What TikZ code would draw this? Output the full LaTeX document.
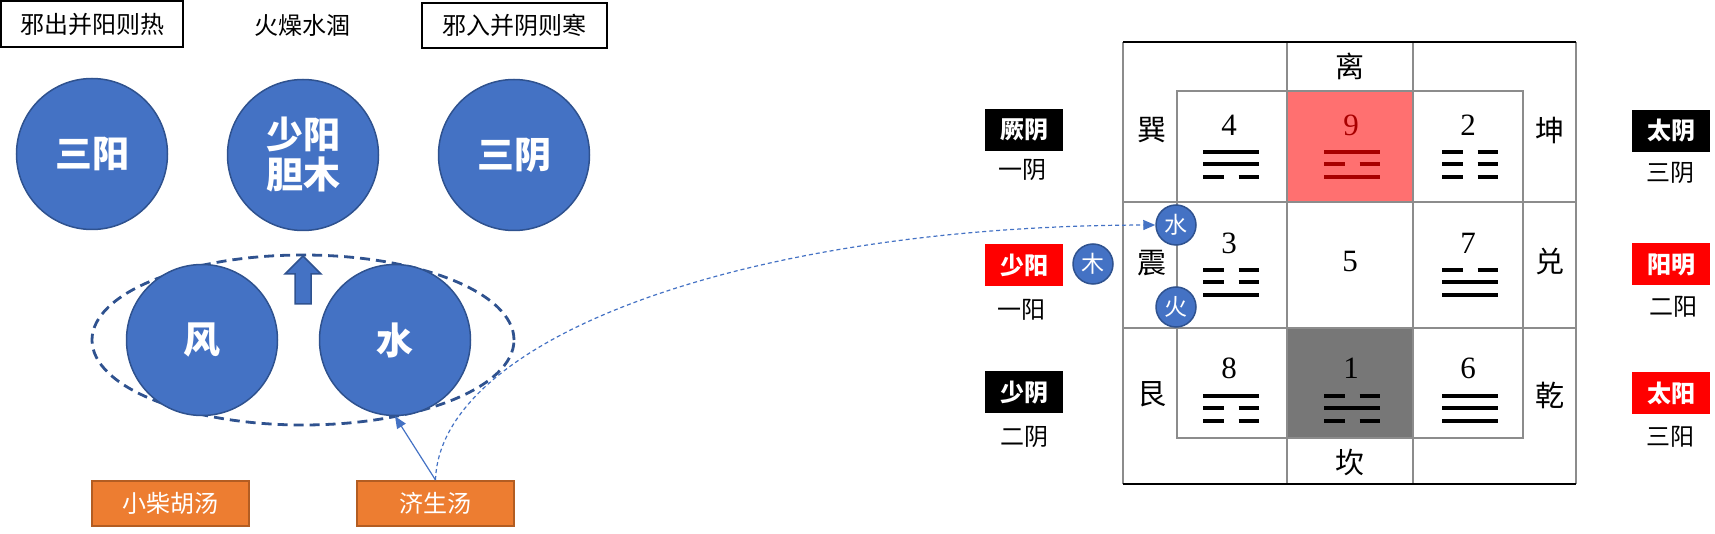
\documentclass[tikz,border=0pt]{standalone}
\usepackage{fontspec}
\setmainfont{Liberation Serif}
\newfontfamily\cjk{Noto Sans CJK SC}
\usetikzlibrary{shapes.geometric,arrows.meta}
\definecolor{cblue}{HTML}{4472C4}
\definecolor{cblueD}{HTML}{2F528F}
\definecolor{corange}{HTML}{ED7D31}
\definecolor{corangeD}{HTML}{B35D22}
\definecolor{cred}{HTML}{FF0000}
\definecolor{cpink}{HTML}{FF7070}
\definecolor{cdred}{HTML}{A80000}
\definecolor{cgraycell}{HTML}{777777}
\definecolor{cgrid}{HTML}{8C8C8C}
\newcommand\yao[4]{%
 \ifnum#3=1
  \draw[yaol,#4] ({#1-28},#2) -- ({#1+28},#2);
 \else
  \draw[yaol,#4] ({#1-28},#2) -- ({#1-7.5},#2);
  \draw[yaol,#4] ({#1+7.5},#2) -- ({#1+28},#2);
 \fi}
\newcommand\trigr[6]{\yao{#1}{#2}{#3}{#6}\yao{#1}{#2+12.5}{#4}{#6}\yao{#1}{#2+25}{#5}{#6}}
\begin{document}
\begin{tikzpicture}[x=0.5pt,y=-0.5pt,
  bigc/.style={circle, fill=cblue, draw=cblueD, line width=0.75pt, minimum size=75.5pt, inner sep=0pt, text=white, align=center, font=\cjk\bfseries\fontsize{18.5}{20}\selectfont},
  topbox/.style={draw=black, line width=1pt, inner sep=0pt, font=\cjk\fontsize{12}{14}\selectfont},
  obox/.style={fill=corange, draw=corangeD, line width=1pt, text=white, minimum width=78.5pt, minimum height=22.5pt, inner sep=0pt, font=\cjk\fontsize{12}{14}\selectfont},
  tag/.style={minimum width=39pt, minimum height=21pt, inner sep=0pt, text=white, font=\cjk\bfseries\fontsize{12}{14}\selectfont},
  sub/.style={inner sep=0pt, font=\cjk\fontsize{12}{14}\selectfont},
  smallc/.style={circle, fill=cblue, draw=cblueD, line width=0.75pt, minimum size=20pt, inner sep=0pt, text=white, font=\cjk\fontsize{11.5}{13}\selectfont},
  glab/.style={inner sep=0pt, font=\cjk\fontsize{14.5}{16}\selectfont},
  num/.style={inner sep=0pt, font=\fontsize{15.5}{17}\selectfont},
  yaol/.style={line width=2pt},
  gridl/.style={draw=cgrid, line width=0.7pt}]
\useasboundingbox (0,0) rectangle (1715,534);
% top labels
\node[topbox, minimum width=91pt, minimum height=23pt] (b1) at (92,24) {邪出并阳则热};
\node[inner sep=0pt, font=\cjk\fontsize{12}{14}\selectfont] (t2) at (302,25) {火燥水涸};
\node[topbox, minimum width=92.5pt, minimum height=22.5pt] (b3) at (514.5,25.5) {邪入并阴则寒};
% circles
\node[bigc] (sanyang) at (92,154) {三阳};
\node[bigc] (shaoyang) at (303,155) {少阳\\胆木};
\node[bigc] (sanyin) at (514,155) {三阴};
\node[draw=cblueD, line width=1.4pt, dash pattern=on 5pt off 3pt, ellipse, minimum width=211pt, minimum height=85pt, inner sep=0pt] (ell) at (303,340) {};
\node[bigc] (feng) at (202,340) {风};
\node[bigc] (shui) at (395,340) {水};
\filldraw[fill=cblue, draw=cblueD, line width=0.75pt] (303,256) -- (321,274) -- (311,274) -- (311,304) -- (295,304) -- (295,274) -- (285,274) -- cycle;
% orange boxes
\node[obox] (xch) at (170.5,503.5) {小柴胡汤};
\node[obox] (jsd) at (435.5,503.5) {济生汤};
% grid
\fill[cpink] (1287,91) rectangle (1413,202);
\fill[cgraycell] (1287,328) rectangle (1413,438);
\draw[gridl] (1177,91) rectangle (1523,438);
\draw[gridl] (1287,42) -- (1287,484);
\draw[gridl] (1413,42) -- (1413,484);
\draw[gridl] (1123,202) -- (1576,202);
\draw[gridl] (1123,328) -- (1576,328);
\draw[gridl] (1123,42) -- (1123,484);
\draw[gridl] (1576,42) -- (1576,484);
\draw[black, line width=0.8pt] (1123,42) -- (1576,42);
\draw[black, line width=0.8pt] (1123,484) -- (1576,484);
% grid labels
\node[glab] (li) at (1350,66) {离};
\node[glab] (kan) at (1350,462) {坎};
\node[glab] (xun) at (1152,130) {巽};
\node[glab] (zhen) at (1152,263) {震};
\node[glab] (gen) at (1152,394) {艮};
\node[glab] (kun) at (1550,130) {坤};
\node[glab] (dui) at (1550,262) {兑};
\node[glab] (qian) at (1550,395) {乾};
% numbers
\node[num] (n4) at (1229,125) {4};
\node[num, text=cdred] (n9) at (1351,125) {9};
\node[num] (n2) at (1468,125) {2};
\node[num] (n3) at (1229,243) {3};
\node[num] (n5) at (1350,262) {5};
\node[num] (n7) at (1468,243) {7};
\node[num] (n8) at (1229,368) {8};
\node[num] (n1) at (1351,368) {1};
\node[num] (n6) at (1468,368) {6};
% trigrams
\trigr{1231}{152}{1}{1}{0}{black}
\trigr{1352}{152}{1}{0}{1}{cdred}
\trigr{1470}{152}{0}{0}{0}{black}
\trigr{1231}{270}{0}{0}{1}{black}
\trigr{1470}{270}{0}{1}{1}{black}
\trigr{1231}{396}{1}{0}{0}{black}
\trigr{1352}{396}{0}{1}{0}{black}
\trigr{1470}{396}{1}{1}{1}{black}
% side tags
\node[tag, fill=black] (jueyin) at (1024,130) {厥阴};
\node[sub] (yiyin) at (1022,170) {一阴};
\node[tag, fill=cred] (shaoyangT) at (1024,265) {少阳};
\node[sub] (yiyang) at (1021,310) {一阳};
\node[tag, fill=black] (shaoyin) at (1024,392.5) {少阴};
\node[sub] (eryin) at (1024,437) {二阴};
\node[tag, fill=black] (taiyin) at (1671,131) {太阴};
\node[sub] (sanyinT) at (1670,173) {三阴};
\node[tag, fill=cred] (yangming) at (1671,264.5) {阳明};
\node[sub] (eryang) at (1673,307) {二阳};
\node[tag, fill=cred] (taiyang) at (1671,393.5) {太阳};
\node[sub] (sanyangT) at (1670,437) {三阳};
% small circles
\node[smallc] (shuis) at (1176,225) {水};
\node[smallc] (mus) at (1093,264) {木};
\node[smallc] (huos) at (1176,307) {火};
% connectors
\draw[cblue, line width=0.6pt, -{Triangle[length=6pt,width=5pt]}] (jsd.north) -- (shui.south);
\draw[cblue, line width=0.6pt, dash pattern=on 2pt off 1.5pt, -{Triangle[length=6pt,width=5pt]}] (jsd.north) .. controls (440,340) and (740,226) .. (shuis.west);
\end{tikzpicture}
\end{document}
